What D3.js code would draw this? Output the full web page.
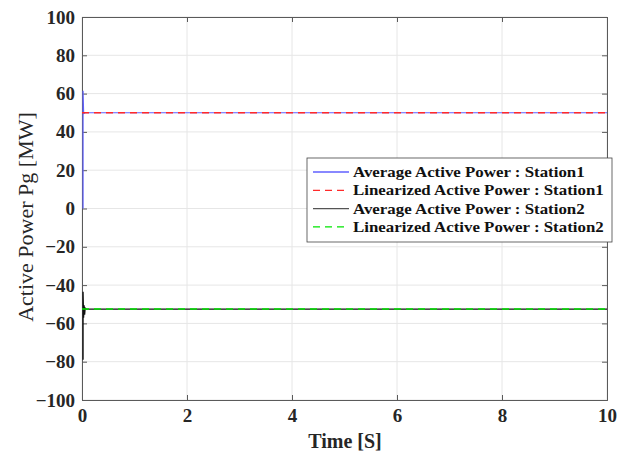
<!DOCTYPE html>
<html><head><meta charset="utf-8">
<script src="https://cdn.jsdelivr.net/npm/d3@7"></script>
<style>body{margin:0;background:#fff}svg{display:block}text{font-family:"Liberation Serif","Times New Roman",serif}</style>
</head><body>
<svg id="c" width="631" height="454"></svg>
<script>
// Data
const xTicks = [0, 2, 4, 6, 8, 10];
const yTicks = [-100, -80, -60, -40, -20, 0, 20, 40, 60, 80, 100];
const t1 = [0.02, 0.02, 0.03, 0.04, 0.06, 10];
const avg1 = [0, 61.5, 50.5, 49.7, 50, 50];
const lin1T = [0, 10];
const lin1 = [50, 50];
const t2 = [0.02, 0.02, 0.03, 0.04, 0.05, 0.06, 0.08, 10];
const avg2 = [-79, -43.5, -57, -50.5, -55.5, -52, -52.5, -52.5];
const lin2T = [0, 10];
const lin2 = [-52.5, -52.5];
const legendLabels = ["Average Active Power : Station1", "Linearized Active Power : Station1", "Average Active Power : Station2", "Linearized Active Power : Station2"];

const svg = d3.select("#c");
const L = 82, R = 607, T = 17, B = 400;
const x = d3.scaleLinear().domain([0, 10]).range([L, R]);
const y = d3.scaleLinear().domain([-100, 100]).range([B, T]);

// grid
const g = svg.append("g");
g.selectAll(".gx").data(xTicks).join("line").attr("x1", d => x(d)).attr("x2", d => x(d)).attr("y1", T).attr("y2", B).attr("stroke", "#e6e6e6").attr("stroke-width", 1);
g.selectAll(".gy").data(yTicks).join("line").attr("y1", d => y(d)).attr("y2", d => y(d)).attr("x1", L).attr("x2", R).attr("stroke", "#e6e6e6").attr("stroke-width", 1);

// axes
svg.append("g").attr("transform", `translate(0,${B})`).call(d3.axisBottom(x).tickValues(xTicks).tickSize(-5).tickPadding(9).tickFormat(d3.format("d")));
svg.append("g").attr("transform", `translate(${L},0)`).call(d3.axisLeft(y).tickValues(yTicks).tickSize(-5).tickPadding(7).tickFormat(d3.format("d")));
svg.append("g").attr("transform", `translate(0,${T})`).call(d3.axisTop(x).tickValues(xTicks).tickSize(-5).tickFormat(""));
svg.append("g").attr("transform", `translate(${R},0)`).call(d3.axisRight(y).tickValues(yTicks).tickSize(-5).tickFormat(""));
svg.selectAll(".domain, .tick line").attr("stroke", "#5a5a5a");
svg.selectAll(".tick text").attr("font-size", 19).attr("font-weight", "bold").attr("fill", "#262626").attr("font-family", "Liberation Serif");

// lines
const line = (xs, ys) => d3.line().x((d, i) => x(xs[i])).y(d => y(d))(ys);
svg.append("path").attr("d", line(t1, avg1)).attr("fill", "none").attr("stroke", "#6060ff").attr("stroke-width", 1.2);
svg.append("path").attr("d", line(lin1T, lin1)).attr("fill", "none").attr("stroke", "#ff2a2a").attr("stroke-width", 1.3).attr("stroke-dasharray", "7,5");
svg.append("path").attr("d", line(t2, avg2)).attr("fill", "none").attr("stroke", "#111").attr("stroke-width", 1.3);
svg.append("path").attr("d", line(lin2T, lin2)).attr("fill", "none").attr("stroke", "#00e600").attr("stroke-width", 1.5).attr("stroke-dasharray", "7,5");

svg.append("text").attr("x", 345).attr("y", 448).attr("text-anchor", "middle").attr("font-size", 20).attr("font-weight", "bold").attr("fill", "#262626").text("Time [S]");
svg.append("text").attr("transform", `translate(33,217) rotate(-90)`).attr("text-anchor", "middle").attr("font-size", 22).attr("fill", "#262626").text("Active Power Pg [MW]");

// legend
const lg = svg.append("g").attr("transform", "translate(307,158)");
lg.append("rect").attr("width", 305).attr("height", 84).attr("fill", "#fff").attr("stroke", "#444").attr("stroke-width", 0.8);
const cols = ["#6060ff", "#ff2a2a", "#555", "#00e600"];
const dashes = [null, "7,5", null, "7,5"];
legendLabels.forEach((lab, i) => {
  const yy = 14 + i * 18.3;
  lg.append("line").attr("x1", 6).attr("x2", 42).attr("y1", yy).attr("y2", yy).attr("stroke", cols[i]).attr("stroke-width", 1.3).attr("stroke-dasharray", dashes[i]);
  lg.append("text").attr("transform", `translate(46,${yy + 5}) scale(1.125,1)`).attr("font-size", 15).attr("font-weight", "bold").attr("fill", "#111").text(lab);
});
</script>
</body></html>
